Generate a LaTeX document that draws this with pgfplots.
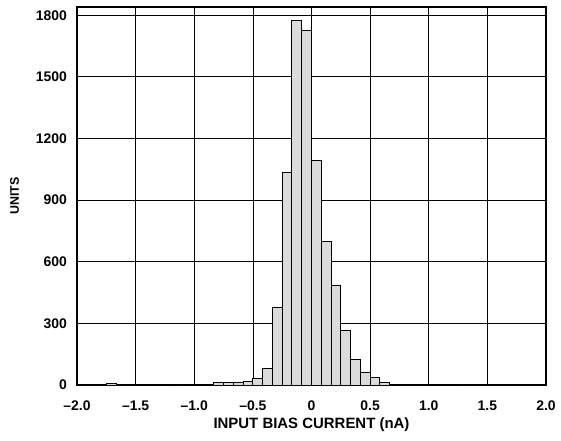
\documentclass[border=0pt]{standalone}
\usepackage{fontspec}
\setmainfont{Liberation Sans}
\usepackage{pgfplots}
\pgfplotsset{compat=1.18}
\begin{document}
\begin{tikzpicture}
\begin{axis}[
    width=469bp, height=378bp,
    scale only axis,
    xmin=-2, xmax=2,
    ymin=0, ymax=1840,
    xtick={-2,-1.5,-1,-0.5,0,0.5,1,1.5,2},
    xticklabels={–2.0,–1.5,–1.0,–0.5,0,0.5,1.0,1.5,2.0},
    ytick={0,300,600,900,1200,1500,1800},
    yticklabels={0,300,600,900,1200,1500,1800},
    major tick length=0pt,
    grid=major,
    grid style={black, line width=0.7pt},
    axis line style={line width=1.4pt},
    ticklabel style={font=\bfseries\fontsize{14}{16}\selectfont, inner sep=0pt},
    xticklabel style={anchor=center, yshift=-20.5bp},
    yticklabel style={anchor=east, xshift=-10bp},
    xlabel={INPUT BIAS CURRENT (nA)},
    ylabel={UNITS},
    xlabel style={font=\bfseries\fontsize{15}{17}\selectfont, inner sep=0pt,
        at={(axis description cs:0.5,-0.106)}, anchor=center},
    ylabel style={font=\bfseries\fontsize{12.5}{14}\selectfont, inner sep=0pt,
        at={(axis description cs:-0.1333,0.5)}, anchor=center},
]
\addplot[ybar interval, fill=black!14, draw=black, line width=1pt] coordinates {
(-2.0000,0) (-1.9167,0) (-1.8333,0) (-1.7500,5) (-1.6667,0) (-1.5833,0)
(-1.5000,4) (-1.4167,4) (-1.3333,2) (-1.2500,3) (-1.1667,0) (-1.0833,3)
(-1.0000,2) (-0.9167,3) (-0.8333,12) (-0.7500,12) (-0.6667,10) (-0.5833,16)
(-0.5000,31) (-0.4167,78) (-0.3333,375) (-0.2500,1033) (-0.1667,1772) (-0.0833,1724)
(0.0000,1094) (0.0833,697) (0.1667,483) (0.2500,264) (0.3333,126) (0.4167,60)
(0.5000,37) (0.5833,13) (0.6667,4) (0.7500,0) (0.8333,0) (0.9167,0)
(1.0000,3) (1.0833,2) (1.1667,3) (1.2500,0) (1.3333,0) (1.4167,0)
(1.5000,0) (1.5833,0) (1.6667,0) (1.7500,0) (1.8333,0) (1.9167,0)
(2.0000,0)
};
\coordinate (ll) at (rel axis cs:0,0);
\coordinate (ur) at (rel axis cs:1,1);
\end{axis}
\pgfresetboundingbox
\useasboundingbox ([xshift=-77bp,yshift=-56bp]ll) rectangle ([xshift=15bp,yshift=7bp]ur);
\end{tikzpicture}
\end{document}
